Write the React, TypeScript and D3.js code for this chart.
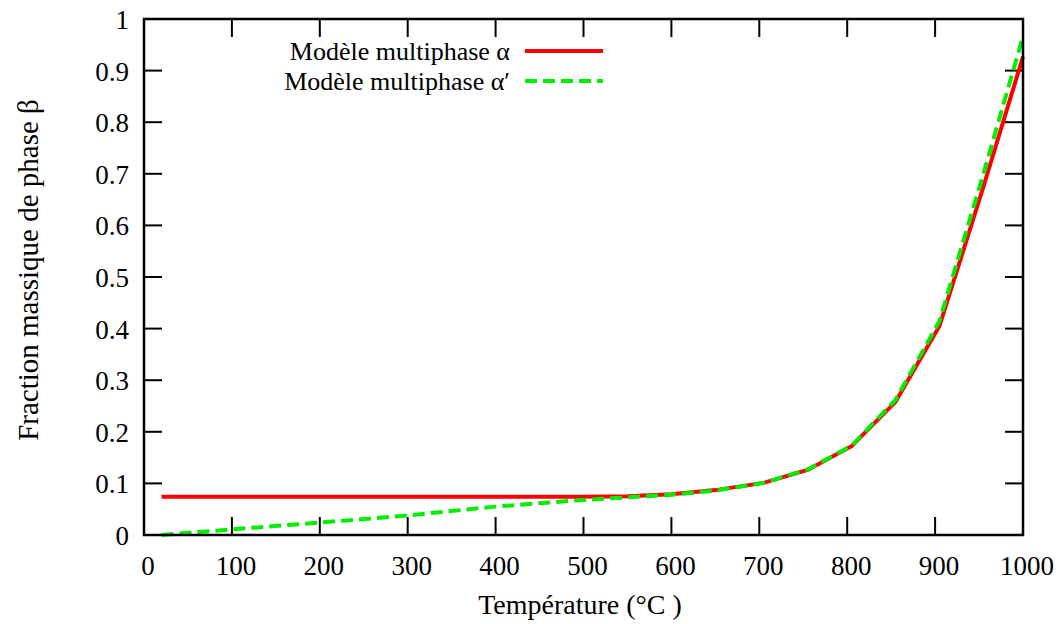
import React from "react";
import * as d3 from "d3";

const temperatures = [20, 100, 200, 300, 400, 500, 550, 600, 650, 705, 755, 805, 855, 905, 955, 1000];
const alphaValues = [0.074, 0.074, 0.074, 0.074, 0.074, 0.074, 0.075, 0.079, 0.087, 0.101, 0.126, 0.172, 0.258, 0.405, 0.675, 0.927];
const alphaPrimeValues = [0.0, 0.011, 0.024, 0.038, 0.055, 0.068, 0.073, 0.078, 0.086, 0.101, 0.127, 0.173, 0.262, 0.415, 0.7, 0.966];
const xTicks = [0, 100, 200, 300, 400, 500, 600, 700, 800, 900, 1000];
const yTicks = [0, 0.1, 0.2, 0.3, 0.4, 0.5, 0.6, 0.7, 0.8, 0.9, 1];
const seriesNames = ["Modèle multiphase α", "Modèle multiphase α′"];

const W = 1064;
const H = 624;
const left = 144;
const right = 1023;
const top = 19;
const bottom = 535;
const TL = 18;
const font = "'Liberation Serif', 'DejaVu Serif', serif";
const ts = { fontFamily: font };

export default function App() {
  const x = d3.scaleLinear().domain([0, 1000]).range([left, right]);
  const y = d3.scaleLinear().domain([0, 1]).range([bottom, top]);
  const line = d3
    .line<[number, number]>()
    .x((d) => x(d[0]))
    .y((d) => y(d[1]));
  const alphaPath = line(temperatures.map((t, i) => [t, alphaValues[i]]) as [number, number][]) || "";
  const alphaPrimePath = line(temperatures.map((t, i) => [t, alphaPrimeValues[i]]) as [number, number][]) || "";

  const fmt = (v: number) => (v === 0 ? "0" : v === 1 ? "1" : String(v));

  return (
    <svg width={W} height={H} style={{ position: "absolute", left: 0, top: 0, background: "#fff" }}>
      <rect x={0} y={0} width={W} height={H} fill="#fff" />
      {xTicks.map((t) => (
        <g key={"x" + t}>
          <line x1={x(t)} x2={x(t)} y1={bottom} y2={bottom - TL} stroke="#000" strokeWidth={2} />
          <line x1={x(t)} x2={x(t)} y1={top} y2={top + TL} stroke="#000" strokeWidth={2} />
          <text x={x(t) + 4} y={575} textAnchor="middle" fontSize={27} fill="#000" style={ts}>
            {t}
          </text>
        </g>
      ))}
      {yTicks.map((t) => (
        <g key={"y" + t}>
          <line x1={left} x2={left + TL} y1={y(t)} y2={y(t)} stroke="#000" strokeWidth={2} />
          <line x1={right} x2={right - TL} y1={y(t)} y2={y(t)} stroke="#000" strokeWidth={2} />
          <text x={129} y={y(t) + 10} textAnchor="end" fontSize={27} fill="#000" style={ts}>
            {fmt(t)}
          </text>
        </g>
      ))}
      <path d={alphaPath} fill="none" stroke="#ff0000" strokeWidth={4} />
      <path d={alphaPrimePath} fill="none" stroke="#00ee00" strokeWidth={4} strokeDasharray="12,6" />
      <rect x={left} y={top} width={right - left} height={bottom - top} fill="none" stroke="#000" strokeWidth={2.5} />
      <text x={510} y={60} textAnchor="end" fontSize={26} fill="#000" style={ts}>
        {seriesNames[0]}
      </text>
      <line x1={525} x2={603} y1={51} y2={51} stroke="#ff0000" strokeWidth={4} />
      <text x={510} y={90} textAnchor="end" fontSize={26} fill="#000" style={ts}>
        {seriesNames[1]}
      </text>
      <line x1={525} x2={603} y1={81} y2={81} stroke="#00ee00" strokeWidth={4} strokeDasharray="12,6" />
      <text x={580} y={614} textAnchor="middle" fontSize={28} fill="#000" style={ts}>
        Température (°C )
      </text>
      <text transform={`translate(38, 270) rotate(-90)`} textAnchor="middle" fontSize={29} fill="#000" style={ts}>
        Fraction massique de phase β
      </text>
    </svg>
  );
}
